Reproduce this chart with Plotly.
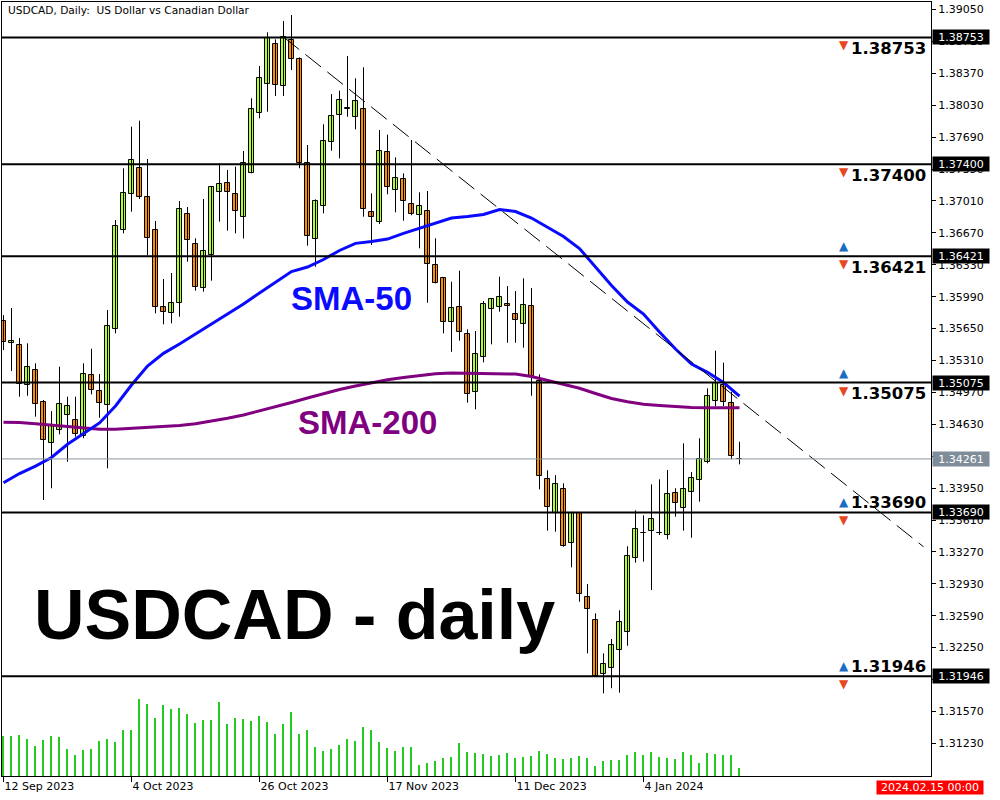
import plotly.graph_objects as go

# ---------------- data ----------------
date_tick_pos = [0, 16, 32, 48, 64, 80]
date_tick_text = ["12 Sep 2023", "4 Oct 2023", "26 Oct 2023", "17 Nov 2023", "11 Dec 2023", "4 Jan 2024"]

price_ticks = ["1.39050", "1.38710", "1.38370", "1.38030", "1.37690", "1.37350", "1.37010", "1.36670",
               "1.36330", "1.35990", "1.35650", "1.35310", "1.34970", "1.34630", "1.34290", "1.33950",
               "1.33610", "1.33270", "1.32930", "1.32590", "1.32250", "1.31910", "1.31570", "1.31230"]

opens = [1.35730, 1.35493, 1.35472, 1.35045, 1.35205, 1.34864, 1.34427, 1.34566, 1.34726, 1.34672,
         1.34505, 1.35152, 1.34981, 1.34832, 1.35642, 1.36697, 1.37081, 1.37358, 1.37049, 1.36697,
         1.35876, 1.35812, 1.35919, 1.36867, 1.36548, 1.36079, 1.36437, 1.37102, 1.37198, 1.37081,
         1.36835, 1.37311, 1.37944, 1.38253, 1.38679, 1.38231, 1.38722, 1.38519, 1.37411, 1.36601,
         1.36953, 1.37635, 1.37922, 1.37994, 1.37901, 1.37986, 1.36892, 1.36782, 1.37528, 1.37123,
         1.37240, 1.36974, 1.36857, 1.36908, 1.36324, 1.36185, 1.35717, 1.35876, 1.35589, 1.34971,
         1.35344, 1.35855, 1.35876, 1.35908, 1.35802, 1.35695, 1.35887, 1.35088, 1.34044, 1.33688,
         1.33937, 1.33362, 1.33681, 1.32786, 1.32541, 1.31966, 1.32030, 1.32221, 1.32413, 1.33202,
         1.33468, 1.33490, 1.33468, 1.33447, 1.33894, 1.33735, 1.33905, 1.34033, 1.34225, 1.34878,
         1.35045, 1.34853, 1.34264]
highs = [1.35794, 1.35869, 1.35549, 1.35493, 1.35280, 1.34889, 1.34771, 1.35243, 1.34924, 1.34924,
         1.35280, 1.35435, 1.35166, 1.35848, 1.36807, 1.37358, 1.37801, 1.37865, 1.37457, 1.36796,
         1.36178, 1.36242, 1.37009, 1.36945, 1.36612, 1.37031, 1.37164, 1.37411, 1.37340, 1.37375,
         1.37542, 1.38104, 1.38448, 1.38807, 1.38732, 1.38927, 1.38991, 1.38540, 1.37606, 1.37027,
         1.37827, 1.38149, 1.38185, 1.38554, 1.38317, 1.38434, 1.37091, 1.37766, 1.37716, 1.37475,
         1.37304, 1.37659, 1.37102, 1.37116, 1.36612, 1.36194, 1.36149, 1.36266, 1.35642, 1.35624,
         1.35944, 1.35972, 1.36203, 1.36103, 1.36050, 1.36185, 1.36082, 1.35163, 1.34140, 1.34089,
         1.34001, 1.33698, 1.33681, 1.32928, 1.32616, 1.32189, 1.32342, 1.32648, 1.33330, 1.33713,
         1.33660, 1.33990, 1.34044, 1.34143, 1.33948, 1.34427, 1.34121, 1.34481, 1.35013, 1.35414,
         1.35286, 1.34977, 1.34444]
lows = [1.35421, 1.35198, 1.34924, 1.34934, 1.34711, 1.33823, 1.33948, 1.34523, 1.34231, 1.34498,
        1.34481, 1.34949, 1.34700, 1.34161, 1.35599, 1.36665, 1.36895, 1.37031, 1.36431, 1.35812,
        1.35695, 1.35706, 1.35776, 1.36362, 1.36053, 1.36043, 1.36160, 1.36789, 1.36693, 1.36665,
        1.36610, 1.37304, 1.37890, 1.37961, 1.38128, 1.38128, 1.38405, 1.37358, 1.36533, 1.36309,
        1.36878, 1.37545, 1.37464, 1.37907, 1.37773, 1.36842, 1.36540, 1.36764, 1.37081, 1.36889,
        1.36799, 1.36857, 1.36505, 1.35925, 1.36132, 1.35599, 1.35403, 1.35521, 1.34860, 1.34790,
        1.35290, 1.35482, 1.35830, 1.35499, 1.35499, 1.35446, 1.34934, 1.33937, 1.33496, 1.33485,
        1.33325, 1.33106, 1.32739, 1.32189, 1.31948, 1.31763, 1.31817, 1.31770, 1.32270, 1.33155,
        1.33166, 1.32864, 1.33450, 1.33404, 1.33645, 1.33496, 1.33421, 1.33805, 1.34214, 1.34825,
        1.34825, 1.34257, 1.34203]
closes = [1.35504, 1.35514, 1.35056, 1.35243, 1.34843, 1.34459, 1.34622, 1.34843, 1.34825, 1.34523,
          1.35166, 1.34992, 1.34853, 1.35674, 1.36740, 1.37091, 1.37443, 1.37049, 1.36612, 1.35876,
          1.35823, 1.35919, 1.36921, 1.36590, 1.36090, 1.36473, 1.37155, 1.37187, 1.37102, 1.36899,
          1.37411, 1.37986, 1.38317, 1.38743, 1.38242, 1.38754, 1.38519, 1.37411, 1.36639, 1.37006,
          1.37645, 1.37912, 1.38082, 1.38000, 1.38072, 1.36921, 1.36835, 1.37539, 1.37155, 1.37251,
          1.37006, 1.36867, 1.36953, 1.36335, 1.36139, 1.35717, 1.35866, 1.35610, 1.34949, 1.35376,
          1.35908, 1.35962, 1.35983, 1.35887, 1.35738, 1.35898, 1.35148, 1.34076, 1.33745, 1.33990,
          1.33333, 1.33681, 1.32821, 1.32658, 1.31948, 1.32072, 1.32275, 1.32520, 1.33223, 1.33511,
          1.33475, 1.33617, 1.33475, 1.33884, 1.33788, 1.33937, 1.34054, 1.34257, 1.34928, 1.35073,
          1.34871, 1.34295, 1.34261]
volumes = [40, 40, 41, 37, 30, 36, 40, 39, 27, 21, 26, 27, 35, 37, 34, 46, 46, 77, 72, 58,
           71, 67, 68, 62, 53, 56, 56, 74, 52, 58, 57, 55, 60, 54, 42, 52, 64, 42, 46, 29,
           25, 27, 31, 37, 35, 49, 46, 34, 28, 25, 29, 29, 11, 13, 15, 18, 19, 33, 24, 23,
           22, 20, 21, 23, 18, 19, 20, 25, 22, 18, 17, 18, 20, 18, 10, 15, 16, 16, 21, 24,
           21, 24, 19, 18, 17, 24, 21, 13, 23, 22, 21, 21, 8]

sma_bars = [0, 2, 4, 6, 8, 10, 12, 14, 16, 18, 20, 22, 24, 26, 28, 30, 32, 34, 36, 38, 40, 42, 44,
            46, 48, 50, 52, 54, 56, 58, 60, 62, 64, 66, 68, 70, 72, 74, 76, 78, 80, 82, 84, 86, 88,
            90, 92]
sma50 = [1.34007, 1.34105, 1.34185, 1.34276, 1.34417, 1.34534, 1.34644, 1.34825, 1.35048, 1.35251,
         1.35386, 1.35485, 1.35592, 1.35693, 1.35800, 1.35912, 1.36029, 1.36141, 1.36258, 1.36306,
         1.36386, 1.36482, 1.36558, 1.36578, 1.36604, 1.36665, 1.36721, 1.36775, 1.36828, 1.36844,
         1.36865, 1.36919, 1.36897, 1.36828, 1.36732, 1.36631, 1.36503, 1.36311, 1.36109, 1.35933,
         1.35805, 1.35613, 1.35432, 1.35272, 1.35184, 1.35075, 1.34931]
sma200 = [1.34651, 1.34649, 1.34637, 1.34622, 1.34604, 1.34587, 1.34576, 1.34576, 1.34585, 1.34596,
          1.34601, 1.34617, 1.34636, 1.34662, 1.34694, 1.34729, 1.34771, 1.34814, 1.34862, 1.34910,
          1.34958, 1.35001, 1.35038, 1.35075, 1.35105, 1.35128, 1.35150, 1.35168, 1.35176, 1.35174,
          1.35172, 1.35169, 1.35166, 1.35139, 1.35100, 1.35059, 1.35014, 1.34958, 1.34905, 1.34871,
          1.34843, 1.34830, 1.34817, 1.34809, 1.34807, 1.34807, 1.34807]

trend_bars = [35, 115]
trend_prices = [1.38757, 1.33325]

levels = [1.38753, 1.37400, 1.36421, 1.35075, 1.33690, 1.31946]
level_text_below = [True, True, True, True, False, False]
level_has_up_arrow = [False, False, True, True, True, True]
current_price = 1.34261
end_time_label = "2024.02.15 00:00"
title_text = "USDCAD, Daily:  US Dollar vs Canadian Dollar"

# ---------------- style ----------------
BULL = "#adff2f"
BEAR = "#ff8c00"
VOLC = "#22cc22"
FONT = "DejaVu Sans"
Y_MIN, Y_MAX = 1.30882, 1.39130
X_MIN, X_MAX = -0.1875, 115.9375

n = len(opens)
idx = list(range(n))

fig = go.Figure()

# volumes (overlay axis)
fig.add_trace(go.Bar(x=idx, y=volumes, width=0.16, marker=dict(color=VOLC, line=dict(width=0)),
                     yaxis="y2", hoverinfo="skip", showlegend=False))

# wicks
wx, wy = [], []
for i in idx:
    wx += [i, i, None]
    wy += [lows[i], highs[i], None]
fig.add_trace(go.Scatter(x=wx, y=wy, mode="lines", line=dict(color="black", width=1),
                         hoverinfo="skip", showlegend=False))

# bodies
for bull, col in [(True, BULL), (False, BEAR)]:
    bx, bb, bh = [], [], []
    for i in idx:
        if (closes[i] >= opens[i]) == bull:
            bx.append(i)
            bb.append(min(opens[i], closes[i]))
            bh.append(abs(closes[i] - opens[i]))
    fig.add_trace(go.Bar(x=bx, y=bh, base=bb, width=0.625,
                         marker=dict(color=col, line=dict(color="black", width=1)),
                         hoverinfo="skip", showlegend=False))

# moving averages
fig.add_trace(go.Scatter(x=sma_bars, y=sma200, mode="lines", line=dict(color="#800080", width=3),
                         hoverinfo="skip", showlegend=False))
fig.add_trace(go.Scatter(x=sma_bars, y=sma50, mode="lines", line=dict(color="#0a0aff", width=3),
                         hoverinfo="skip", showlegend=False))

# trend line
fig.add_trace(go.Scatter(x=trend_bars, y=trend_prices, mode="lines",
                         line=dict(color="black", width=1, dash="20px,8px"),
                         hoverinfo="skip", showlegend=False))

shapes = []
for lv in levels:
    shapes.append(dict(type="line", xref="paper", x0=0, x1=1, yref="y", y0=lv, y1=lv,
                       line=dict(color="black", width=2), layer="above"))
shapes.append(dict(type="line", xref="paper", x0=0, x1=1, yref="y", y0=current_price, y1=current_price,
                   line=dict(color="#8a96a3", width=1), layer="above"))

ann = []
# title
ann.append(dict(text=title_text, xref="paper", yref="paper", x=0.0043, y=0.9897, xanchor="left",
                yanchor="middle", showarrow=False, font=dict(family=FONT, size=10.6, color="black")))
# big labels
ann.append(dict(text="<b>USDCAD - daily</b>", xref="paper", yref="paper", x=0.0323, y=0.2074,
                xanchor="left", yanchor="middle", showarrow=False,
                font=dict(family="Liberation Sans", size=70, color="black")))
ann.append(dict(text="<b>SMA-50</b>", xref="paper", yref="paper", x=0.3090, y=0.6169,
                xanchor="left", yanchor="middle", showarrow=False,
                font=dict(family="Liberation Sans", size=33, color="#0a0aff")))
ann.append(dict(text="<b>SMA-200</b>", xref="paper", yref="paper", x=0.3165, y=0.4561,
                xanchor="left", yanchor="middle", showarrow=False,
                font=dict(family="Liberation Sans", size=33, color="#800080")))

for lv, below, up in zip(levels, level_text_below, level_has_up_arrow):
    s = f"{lv:.5f}"
    # level text inside chart
    ann.append(dict(text=f"<b>{s}</b>", x=105.7, y=lv, xref="x", yref="y", xanchor="left",
                    yanchor="middle", yshift=-11 if below else 10, showarrow=False,
                    font=dict(family=FONT, size=16.5, color="black")))
    # arrows
    ann.append(dict(text="▼", x=105, y=lv, xref="x", yref="y", xanchor="center", yanchor="middle",
                    yshift=-8, showarrow=False, font=dict(family=FONT, size=12, color="#e8461c")))
    if up:
        ann.append(dict(text="▲", x=105, y=lv, xref="x", yref="y", xanchor="center", yanchor="middle",
                        yshift=10, showarrow=False, font=dict(family=FONT, size=12, color="#1c6cc4")))
    # price-axis box
    ann.append(dict(text=s, x=1, y=lv, xref="paper", yref="y", xanchor="left", yanchor="middle",
                    xshift=1, showarrow=False, bgcolor="black", width=54, height=12, borderpad=1,
                    font=dict(family=FONT, size=11, color="white")))

ann.append(dict(text=f"{current_price:.5f}", x=1, y=current_price, xref="paper", yref="y",
                xanchor="left", yanchor="middle", xshift=1, showarrow=False, bgcolor="#7f8c99",
                width=54, height=12, borderpad=1, font=dict(family=FONT, size=11, color="white")))
ann.append(dict(text=end_time_label, xref="paper", yref="paper", x=0.9957, y=-0.0155,
                xanchor="center", yanchor="middle", xshift=3, showarrow=False, bgcolor="#ff0000",
                width=104, height=11, borderpad=1, font=dict(family=FONT, size=11, color="white")))

fig.update_layout(
    width=1000, height=800,
    margin=dict(l=2, r=69, t=2, b=24),
    paper_bgcolor="white", plot_bgcolor="white",
    barmode="overlay", bargap=0,
    showlegend=False,
    shapes=shapes, annotations=ann,
    xaxis=dict(range=[X_MIN, X_MAX], showgrid=False, zeroline=False, showline=True, mirror=True,
               linecolor="black", linewidth=1, ticks="outside", ticklen=5, tickcolor="black",
               tickvals=date_tick_pos, ticktext=date_tick_text, ticklabelposition="outside right",
               tickfont=dict(family=FONT, size=11, color="black"), fixedrange=True),
    yaxis=dict(range=[Y_MIN, Y_MAX], side="right", showgrid=False, zeroline=False, showline=True,
               mirror=True, linecolor="black", linewidth=1, ticks="outside", ticklen=4,
               tickcolor="black", tickvals=[float(t) for t in price_ticks], ticktext=price_ticks,
               tickfont=dict(family=FONT, size=11, color="black"), fixedrange=True),
    yaxis2=dict(range=[0, 774], overlaying="y", visible=False, fixedrange=True),
)

fig.write_html("out.html", config={"displayModeBar": False},
               post_script="document.body.style.margin='0px';")
